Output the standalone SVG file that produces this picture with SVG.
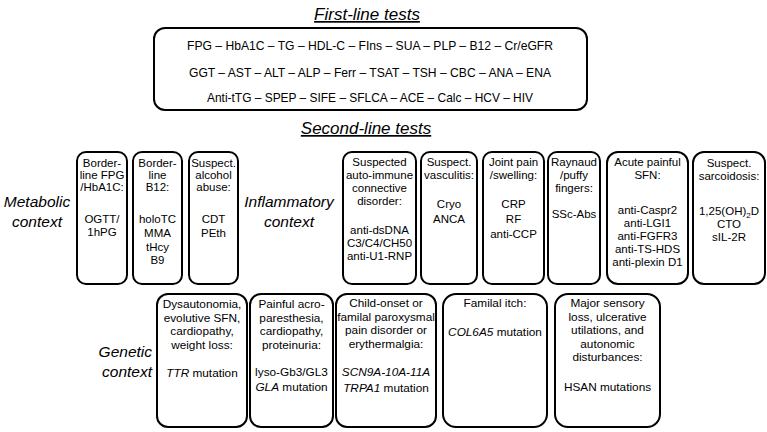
<svg xmlns="http://www.w3.org/2000/svg" width="767" height="432" viewBox="0 0 767 432">
<style>
.box{fill:#fff;stroke:#000;stroke-width:2}
text{font-family:"Liberation Sans",Arial,sans-serif;fill:#000}
.t{font-size:11.5px;text-anchor:middle}
.g{font-size:11.8px;text-anchor:middle}
.f{font-size:13px;text-anchor:middle}
.title{font-size:17px;font-style:italic;text-anchor:middle;text-decoration:underline}
.ctx{font-size:15.5px;font-style:italic;text-anchor:middle}
.i{font-style:italic}
</style>
<rect width="767" height="432" fill="#fff"/>
<text class="title" x="367" y="20">First-line tests</text>
<g id="first-line">
<rect class="box" x="154" y="28" width="433" height="82" rx="11"/>
<text class="f" x="370" y="50" textLength="366" lengthAdjust="spacingAndGlyphs">FPG – HbA1C – TG – HDL-C – FIns – SUA – PLP – B12 – Cr/eGFR</text>
<text class="f" x="370" y="77" textLength="362" lengthAdjust="spacingAndGlyphs">GGT – AST – ALT – ALP – Ferr – TSAT – TSH – CBC – ANA – ENA</text>
<text class="f" x="370" y="102" textLength="326" lengthAdjust="spacingAndGlyphs">Anti-tTG – SPEP – SIFE – SFLCA – ACE – Calc – HCV – HIV</text>
</g>
<text class="title" x="366" y="134">Second-line tests</text>
<g id="ctx-metabolic"><text class="ctx" x="37" y="207">Metabolic</text><text class="ctx" x="37" y="227">context</text></g>
<g id="ctx-inflammatory"><text class="ctx" x="289" y="207">Inflammatory</text><text class="ctx" x="289" y="227">context</text></g>
<g id="ctx-genetic"><text class="ctx" x="152" y="357" text-anchor="end" style="text-anchor:end">Genetic</text><text class="ctx" x="152" y="377" style="text-anchor:end">context</text></g>

<g id="b1"><rect class="box" x="77" y="152" width="50" height="132" rx="9"/>
<text class="t" x="102" y="167">Border-</text><text class="t" x="102" y="179">line FPG</text><text class="t" x="102" y="191">/HbA1C:</text>
<text class="t" x="102" y="223">OGTT/</text><text class="t" x="102" y="236">1hPG</text></g>
<g id="b2"><rect class="box" x="133" y="152" width="49" height="132" rx="9"/>
<text class="t" x="157.5" y="167">Border-</text><text class="t" x="157.5" y="179">line</text><text class="t" x="157.5" y="191">B12:</text>
<text class="t" x="157.5" y="223">holoTC</text><text class="t" x="157.5" y="237">MMA</text><text class="t" x="157.5" y="251">tHcy</text><text class="t" x="157.5" y="264">B9</text></g>
<g id="b3"><rect class="box" x="189" y="152" width="49" height="132" rx="9"/>
<text class="t" x="213.5" y="167">Suspect.</text><text class="t" x="213.5" y="179">alcohol</text><text class="t" x="213.5" y="191">abuse:</text>
<text class="t" x="213.5" y="223">CDT</text><text class="t" x="213.5" y="237">PEth</text></g>
<g id="b4"><rect class="box" x="343" y="152" width="73" height="132" rx="9"/>
<text class="t" x="379.5" y="166">Suspected</text><text class="t" x="379.5" y="179">auto-immune</text><text class="t" x="379.5" y="192">connective</text><text class="t" x="379.5" y="205">disorder:</text>
<text class="t" x="379.5" y="234">anti-dsDNA</text><text class="t" x="379.5" y="247">C3/C4/CH50</text><text class="t" x="379.5" y="260">anti-U1-RNP</text></g>
<g id="b5"><rect class="box" x="421" y="152" width="56" height="132" rx="9"/>
<text class="t" x="449" y="166">Suspect.</text><text class="t" x="449" y="179">vasculitis:</text>
<text class="t" x="449" y="208">Cryo</text><text class="t" x="449" y="223">ANCA</text></g>
<g id="b6"><rect class="box" x="483" y="152" width="61" height="132" rx="9"/>
<text class="t" x="513.5" y="166">Joint pain</text><text class="t" x="513.5" y="179">/swelling:</text>
<text class="t" x="513.5" y="208">CRP</text><text class="t" x="513.5" y="223">RF</text><text class="t" x="513.5" y="238">anti-CCP</text></g>
<g id="b7"><rect class="box" x="548" y="152" width="52" height="132" rx="9"/>
<text class="t" x="574" y="166">Raynaud</text><text class="t" x="574" y="179">/puffy</text><text class="t" x="574" y="192">fingers:</text>
<text class="t" x="574" y="218">SSc-Abs</text></g>
<g id="b8"><rect class="box" x="607" y="152" width="81" height="132" rx="11"/>
<text class="t" x="647.5" y="166">Acute painful</text><text class="t" x="647.5" y="179">SFN:</text>
<text class="t" x="647.5" y="214">anti-Caspr2</text><text class="t" x="647.5" y="227">anti-LGI1</text><text class="t" x="647.5" y="240">anti-FGFR3</text><text class="t" x="647.5" y="253">anti-TS-HDS</text><text class="t" x="647.5" y="266">anti-plexin D1</text></g>
<g id="b9"><rect class="box" x="693" y="152" width="72" height="132" rx="11"/>
<text class="t" x="729" y="167">Suspect.</text><text class="t" x="729" y="180">sarcoidosis:</text>
<text class="t" x="729" y="215">1,25(OH)<tspan font-size="8" dy="3">2</tspan><tspan dy="-3">D</tspan></text><text class="t" x="729" y="228">CTO</text><text class="t" x="729" y="241">sIL-2R</text></g>

<g id="g1"><rect class="box" x="157" y="294" width="90" height="133" rx="11"/>
<text class="g" x="202" y="308">Dysautonomia,</text><text class="g" x="202" y="321.5">evolutive SFN,</text><text class="g" x="202" y="335">cardiopathy,</text><text class="g" x="202" y="348.5">weight loss:</text>
<text class="g" x="202" y="377"><tspan class="i">TTR</tspan>  mutation</text></g>
<g id="g2"><rect class="box" x="250" y="294" width="83" height="133" rx="11"/>
<text class="g" x="291.5" y="308">Painful acro-</text><text class="g" x="291.5" y="321.5">paresthesia,</text><text class="g" x="291.5" y="335">cardiopathy,</text><text class="g" x="291.5" y="348.5">proteinuria:</text>
<text class="g" x="291.5" y="376">lyso-Gb3/GL3</text><text class="g" x="291.5" y="391"><tspan class="i">GLA</tspan> mutation</text></g>
<g id="g3"><rect class="box" x="336" y="294" width="100" height="133" rx="11"/>
<text class="g" x="386" y="307">Child-onset or</text><text class="g" x="386" y="320.5">familal paroxysmal</text><text class="g" x="386" y="334">pain disorder or</text><text class="g" x="386" y="347.5">erythermalgia:</text>
<text class="g i" x="386" y="376">SCN9A-10A-11A</text><text class="g" x="386" y="392"><tspan class="i">TRPA1</tspan> mutation</text></g>
<g id="g4"><rect class="box" x="443" y="294" width="104" height="133" rx="13"/>
<text class="g" x="495" y="307">Familal itch:</text>
<text class="g" x="495" y="336"><tspan class="i">COL6A5</tspan> mutation</text></g>
<g id="g5"><rect class="box" x="555" y="294" width="105" height="133" rx="13"/>
<text class="g" x="607.5" y="307">Major sensory</text><text class="g" x="607.5" y="320.5">loss, ulcerative</text><text class="g" x="607.5" y="334">utilations, and</text><text class="g" x="607.5" y="347.5">autonomic</text><text class="g" x="607.5" y="361">disturbances:</text>
<text class="g" x="607.5" y="391">HSAN mutations</text></g>
<g id="connectors"></g>
</svg>
